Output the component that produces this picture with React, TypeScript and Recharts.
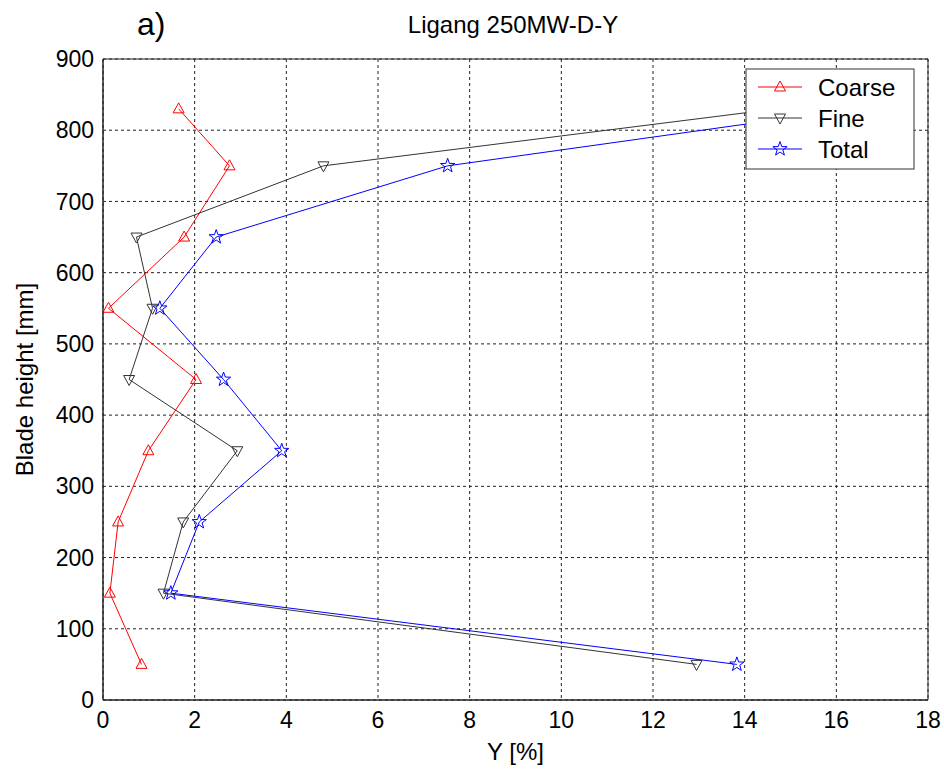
import {
  ComposedChart,
  Scatter,
  XAxis,
  YAxis,
  CartesianGrid,
  ReferenceArea,
} from 'recharts';

// blade heights where the samples were taken (mm)
const heights = [830, 750, 650, 550, 450, 350, 250, 150, 50];

// Y [%] per fraction, top to bottom
const coarse = [1.65, 2.76, 1.77, 0.12, 2.03, 0.99, 0.33, 0.15, 0.84];
const fine = [14.7, 4.81, 0.73, 1.08, 0.57, 2.93, 1.75, 1.32, 12.95];
const total = [16.4, 7.52, 2.47, 1.24, 2.63, 3.9, 2.1, 1.48, 13.83];

const xTicks = [0, 2, 4, 6, 8, 10, 12, 14, 16, 18];
const yTicks = [0, 100, 200, 300, 400, 500, 600, 700, 800, 900];

const RED = '#ff0000';
const GREY = '#333333';
const BLUE = '#0000ff';
const FONT = "'Liberation Sans', Arial, sans-serif";

const toRows = (xs: number[]) => xs.map((x, i) => ({ x, y: heights[i] }));

const triUp = (cx: number, cy: number) =>
  `M${cx},${cy - 6}L${cx - 5.5},${cy + 4}L${cx + 5.5},${cy + 4}Z`;
const triDown = (cx: number, cy: number) =>
  `M${cx},${cy + 6}L${cx - 5.5},${cy - 4}L${cx + 5.5},${cy - 4}Z`;
const star = (cx: number, cy: number) => {
  let d = '';
  for (let i = 0; i < 10; i++) {
    const r = i % 2 === 0 ? 7.5 : 3;
    const a = -Math.PI / 2 + (i * Math.PI) / 5;
    d += `${i === 0 ? 'M' : 'L'}${cx + r * Math.cos(a)},${cy + r * Math.sin(a)}`;
  }
  return d + 'Z';
};

const marker = (fn: (cx: number, cy: number) => string, color: string) => (props: any) =>
  <path d={fn(props.cx, props.cy)} fill="none" stroke={color} strokeWidth={1} />;

const legendItems = [
  { name: 'Coarse', color: RED, fn: triUp, y: 87 },
  { name: 'Fine', color: GREY, fn: triDown, y: 118 },
  { name: 'Total', color: BLUE, fn: star, y: 149 },
];

export default function App() {
  const tick = { fontSize: 23, fill: '#000', fontFamily: FONT };
  return (
    <div style={{ position: 'absolute', left: 0, top: 0, width: 944, height: 770, background: '#fff' }}>
      <ComposedChart
        width={944}
        height={770}
        margin={{ top: 59, right: 16, bottom: 0, left: 0 }}
      >
        <CartesianGrid stroke="#222" strokeDasharray="3 3" />
        <XAxis
          type="number"
          dataKey="x"
          domain={[0, 18]}
          ticks={xTicks}
          height={70}
          tickLine={false}
          tickMargin={6}
          tick={tick}
          axisLine={{ stroke: '#222' }}
          label={{ value: 'Y [%]', position: 'insideBottom', offset: 10, fontSize: 24, fill: '#000', fontFamily: FONT }}
        />
        <YAxis
          type="number"
          dataKey="y"
          domain={[0, 900]}
          ticks={yTicks}
          width={103}
          tickLine={false}
          tickMargin={3}
          tick={tick}
          axisLine={{ stroke: '#222' }}
          label={{
            value: 'Blade height [mm]',
            angle: -90,
            position: 'insideLeft',
            offset: 24,
            fontSize: 24,
            fill: '#000',
            fontFamily: FONT,
            style: { textAnchor: 'middle' },
          }}
        />
        <ReferenceArea x1={0} x2={18} y1={0} y2={900} fill="none" stroke="#222" strokeWidth={1} ifOverflow="visible" />
        <Scatter
          data={toRows(coarse)}
          line={{ stroke: RED, strokeWidth: 1 }}
          shape={marker(triUp, RED)}
          isAnimationActive={false}
        />
        <Scatter
          data={toRows(fine)}
          line={{ stroke: GREY, strokeWidth: 1 }}
          shape={marker(triDown, GREY)}
          isAnimationActive={false}
        />
        <Scatter
          data={toRows(total)}
          line={{ stroke: BLUE, strokeWidth: 1 }}
          shape={marker(star, BLUE)}
          isAnimationActive={false}
        />
      </ComposedChart>

      {/* title, panel letter and the boxed legend */}
      <svg width={944} height={770} style={{ position: 'absolute', left: 0, top: 0, pointerEvents: 'none' }}>
        <text x={137} y={35} fontSize={32} fontFamily={FONT} fill="#000">a)</text>
        <text x={513} y={33} fontSize={24} fontFamily={FONT} fill="#000" textAnchor="middle">
          Ligang 250MW-D-Y
        </text>
        <rect x={746} y={69} width={168} height={100} fill="#fff" stroke="#333" strokeWidth={1} />
        {legendItems.map((it) => (
          <g key={it.name}>
            <line x1={758} x2={802} y1={it.y} y2={it.y} stroke={it.color} strokeWidth={1} />
            <path d={it.fn(780, it.y)} fill="none" stroke={it.color} strokeWidth={1} />
            <text x={818} y={it.y + 8.5} fontSize={24} fontFamily={FONT} fill="#000">{it.name}</text>
          </g>
        ))}
      </svg>
    </div>
  );
}
